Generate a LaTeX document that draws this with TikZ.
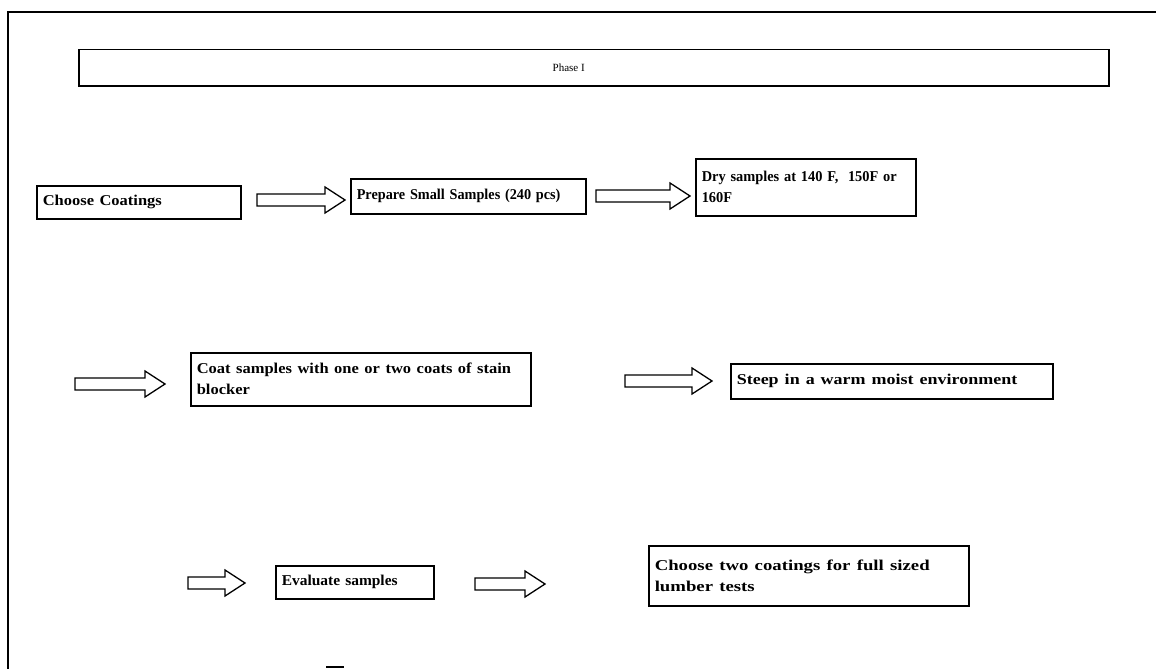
\documentclass[tikz,border=0pt]{standalone}
\usepackage{fontspec}
\setmainfont{Liberation Serif}
\usetikzlibrary{calc}
\newcommand\hs[2]{\scalebox{#1}[1]{#2}}
\newcommand\blockarr[2]{%
  \draw[barrow] let \p1=(#1), \p2=(#2) in
    (\x1,\y1+6pt) -- (\x2-20pt,\y1+6pt) -- (\x2-20pt,\y1+13pt) -- (\x2,\y1)
    -- (\x2-20pt,\y1-13pt) -- (\x2-20pt,\y1-6pt) -- (\x1,\y1-6pt) -- cycle;}
\begin{document}
\begin{tikzpicture}[x=1pt,y=-1pt,
  box/.style={draw, line width=1.5pt, anchor=north west, inner xsep=6pt,
    inner ysep=0pt, align=left,
    font=\fontsize{15}{21}\selectfont\bfseries},
  barrow/.style={draw, line width=1.3pt, fill=white, line join=miter},
  frame/.style={line width=1.4pt}]
\useasboundingbox (0,0) rectangle (1156,669);
% outer frame
\coordinate (ftr) at (1156,12);
\coordinate (ftl) at (8,12);
\coordinate (fbl) at (8,669);
\draw[frame] (ftr) -- (ftl) -- (fbl);
% phase box
\node[draw, line width=1.5pt, anchor=north west, minimum width=1030, minimum height=36,
  font=\fontsize{11}{13}\selectfont] (phase) at (78,49) {Phase I\kern50pt};
% row 1
\node[box, minimum width=204, minimum height=33, text width=192] (cc) at (36,185) {\hs{1.1}{Choose Coatings}};
\node[box, minimum width=235, minimum height=35, text width=223] (ps) at (350,178) {\hs{0.95}{Prepare Small Samples (240 pcs)}};
\node[box, minimum width=220, minimum height=57, text width=208] (dry) at (695,158) {\hs{0.96}{Dry samples at 140 F,\ \ 150F or}\\\hs{0.96}{160F}};
% row 2
\node[box, minimum width=340, minimum height=53, text width=328] (coat) at (190,352) {\hs{1.1}{Coat samples with one or two coats of stain}\\\hs{1.1}{blocker}};
\node[box, minimum width=322, minimum height=35, text width=310] (steep) at (730,363) {\hs{1.2}{Steep in a warm moist environment}};
% row 3
\node[box, minimum width=158, minimum height=33, text width=146] (eval) at (275,565) {\hs{1.03}{Evaluate samples}};
\node[box, minimum width=320, minimum height=60, text width=308] (ch2) at (648,545) {\hs{1.25}{Choose two coatings for full sized}\\\hs{1.25}{lumber tests}};
% arrows
\coordinate (a1s) at (257,200); \coordinate (a1e) at (345,200);
\coordinate (a2s) at (596,196); \coordinate (a2e) at (690,196);
\coordinate (a3s) at (75,384);  \coordinate (a3e) at (165,384);
\coordinate (a4s) at (625,381); \coordinate (a4e) at (712,381);
\coordinate (a5s) at (188,583); \coordinate (a5e) at (245,583);
\coordinate (a6s) at (475,584); \coordinate (a6e) at (545,584);
\blockarr{a1s}{a1e}
\blockarr{a2s}{a2e}
\blockarr{a3s}{a3e}
\blockarr{a4s}{a4e}
\blockarr{a5s}{a5e}
\blockarr{a6s}{a6e}
% small mark at bottom
\coordinate (m1) at (326,667); \coordinate (m2) at (344,667);
\draw[line width=1.5pt] (m1) -- (m2);
\end{tikzpicture}
\end{document}
